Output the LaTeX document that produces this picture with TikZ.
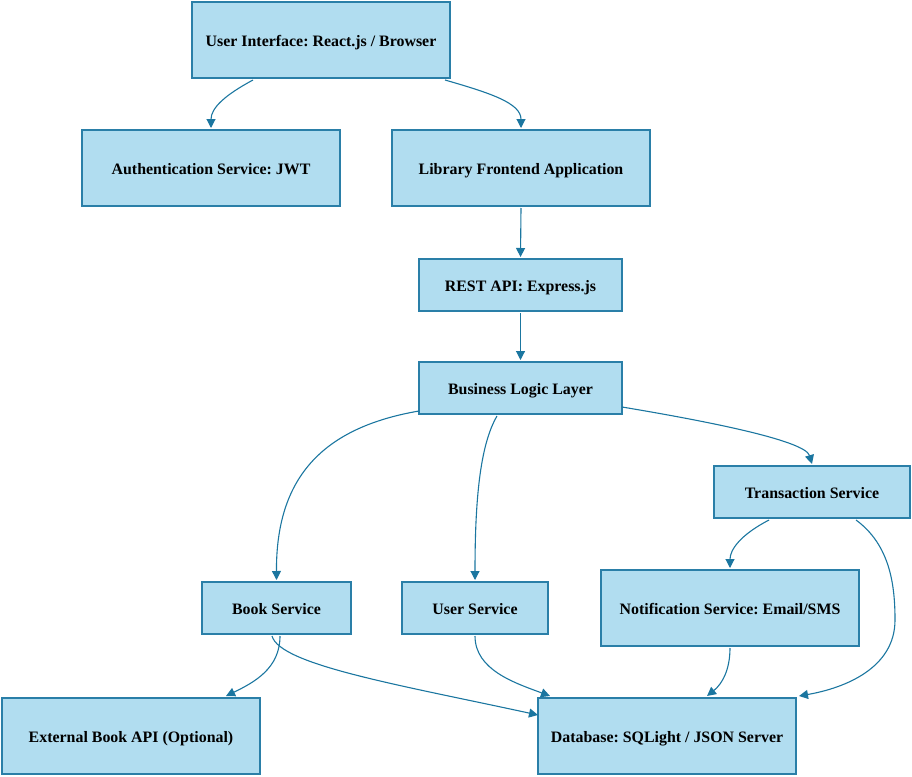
\documentclass[tikz,border=0pt]{standalone}
\usepackage{fontspec}
\setmainfont{Liberation Serif}
\usetikzlibrary{arrows.meta}
\definecolor{boxfill}{RGB}{177,221,240}
\definecolor{boxline}{RGB}{42,127,168}
\definecolor{edgecol}{RGB}{27,118,160}
\frenchspacing
\begin{document}
\begin{tikzpicture}[x=1pt,y=-1pt,
  box/.style={draw=boxline,fill=boxfill,line width=2pt,rectangle,inner sep=0pt,
    text height=16.5pt,text depth=3.5pt,
    font=\fontsize{15.9}{19}\selectfont\bfseries\frenchspacing,text=black},
  conn/.style={draw=edgecol,line width=1.1pt,-{Triangle[length=9pt,width=9pt]}}]
\useasboundingbox (0,0) rectangle (912,776);
\node[box,minimum width=258pt,minimum height=76pt] (ui) at (321,40) {User Interface: React.js / Browser};
\node[box,minimum width=258pt,minimum height=76pt] (auth) at (211,168) {Authentication Service: JWT};
\node[box,minimum width=258pt,minimum height=76pt] (lf) at (521,168) {Library Frontend Application};
\node[box,minimum width=203pt,minimum height=52pt] (rest) at (520.5,285) {REST API: Express.js};
\node[box,minimum width=203pt,minimum height=52pt] (bll) at (520.5,388) {Business Logic Layer};
\node[box,minimum width=196pt,minimum height=52pt] (tx) at (812,492) {Transaction Service};
\node[box,minimum width=149pt,minimum height=52pt] (book) at (276.5,608) {Book Service};
\node[box,minimum width=146pt,minimum height=52pt] (user) at (475,608) {User Service};
\node[box,minimum width=258pt,minimum height=76pt] (notif) at (730,608) {Notification Service: Email/SMS};
\node[box,minimum width=258pt,minimum height=76pt] (ext) at (131,736) {External Book API (Optional)};
\node[box,minimum width=258pt,minimum height=76pt] (db) at (667,736) {Database: SQLight / JSON Server};

\draw[conn] ([xshift=-68pt,yshift=-1pt]ui.south) .. controls (225,95) and (211,108) .. ([yshift=1pt]auth.north);
\draw[conn] ([xshift=124pt,yshift=-1pt]ui.south) .. controls (490,93) and (521,103) .. ([yshift=1pt]lf.north);
\draw[conn] ([yshift=-1pt]lf.south) -- ([yshift=1pt]rest.north);
\draw[conn] ([yshift=-1pt]rest.south) -- ([yshift=1pt]bll.north);
\draw[conn] ([xshift=1pt,yshift=4pt]bll.south west) .. controls (320,428) and (276,480) .. ([yshift=1pt]book.north);
\draw[conn] ([xshift=-23.5pt,yshift=-1pt]bll.south) .. controls (480,445) and (475,500) .. ([yshift=1pt]user.north);
\draw[conn] ([xshift=-1pt,yshift=8pt]bll.south east) .. controls (700,420) and (805,440) .. ([yshift=1pt]tx.north);
\draw[conn] ([xshift=-43pt,yshift=-1pt]tx.south) .. controls (740,535) and (730,550) .. ([yshift=1pt]notif.north);
\draw[conn] ([xshift=44pt,yshift=-1pt]tx.south) .. controls (890,545) and (895,585) .. (895,620) .. controls (895,668) and (845,688) .. ([xshift=2pt,yshift=1pt]db.north east);
\draw[conn] ([xshift=3.5pt,yshift=-1pt]book.south) .. controls (280,668) and (255,682) .. ([xshift=95pt,yshift=1pt]ext.north);
\draw[conn] ([xshift=-4.5pt,yshift=-1pt]book.south) .. controls (280,665) and (400,685) .. ([xshift=1pt,yshift=-18pt]db.north west);
\draw[conn] ([yshift=-1pt]user.south) .. controls (475,670) and (515,683) .. ([xshift=13pt,yshift=1pt]db.north west);
\draw[conn] ([yshift=-1pt]notif.south) .. controls (730,670) and (722,684) .. ([xshift=40pt,yshift=1pt]db.north);
\end{tikzpicture}
\end{document}
